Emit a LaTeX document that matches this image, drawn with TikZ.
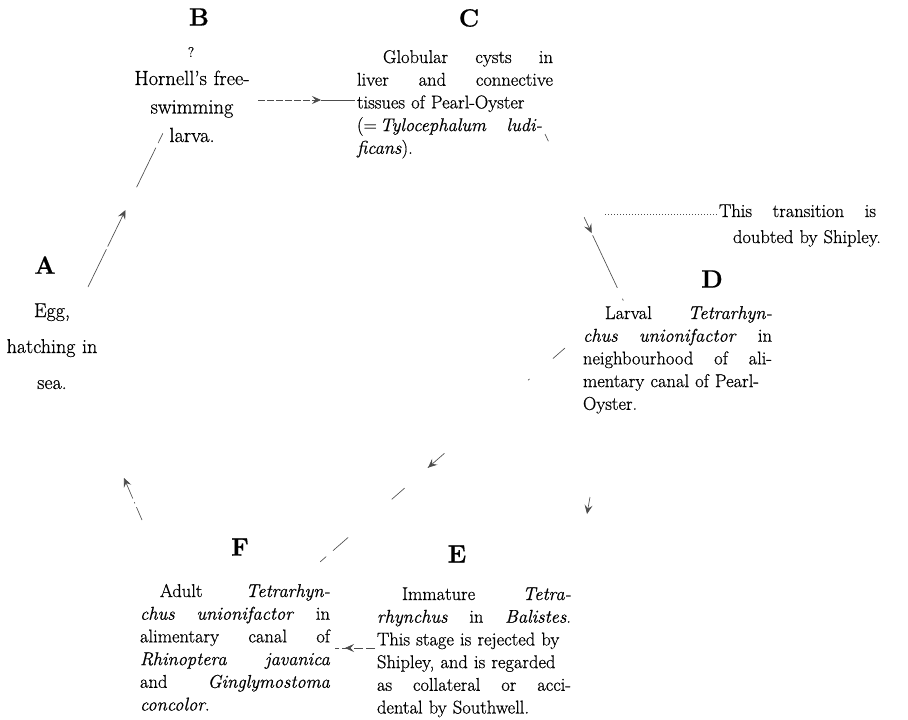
\documentclass[tikz,border=0pt]{standalone}
\usepackage{fontspec}
\setmainfont{Latin Modern Roman}[FakeBold=0.6]
\usetikzlibrary{arrows.meta,decorations.markings}
\newcommand{\jline}[2]{\leavevmode\hbox to #1{#2}}
\begin{document}
\begin{tikzpicture}[x=1pt,y=-1pt,
  >={Stealth[length=9pt,width=8pt,inset=3.5pt]},
  every node/.style={inner sep=0pt, outer sep=0pt, text=black},
  lettr/.style={font=\fontsize{25}{30}\selectfont\bfseries},
  body/.style={anchor=base west, align=left, font=\fontsize{18.5}{22.7}\selectfont},
  conn/.style={draw, color=black!70, line width=0.65pt},
  tipmark/.style={postaction={decorate}, decoration={markings, mark=at position #1 with {\pgfsetdash{}{0pt}\arrow{>}}}},
]
\useasboundingbox[fill=white] (0,0) rectangle (908,720);

% stage letters
\node[lettr] (A) at (45,265) {A};
\node[lettr] (B) at (199,17) {B};
\node[lettr] (C) at (469,18) {C};
\node[lettr] (D) at (712,279) {D};
\node[lettr] (E) at (457,554) {E};
\node[lettr] (F) at (240,547) {F};

% A text
\node[anchor=base, text width=120pt, align=center, font=\fontsize{20}{36}\selectfont] (At) at (52,317) {Egg,\\hatching in\\sea.};

% B text
\node[font=\fontsize{14}{16}\selectfont] (Bq) at (191,52) {?};
\node[anchor=base, text width=140pt, align=center, font=\fontsize{20.5}{28.5}\selectfont] (Bt) at (192,85) {Hornell's free-\\swimming\\larva.};

% C text
\node[body, text width=196pt] (Ct) at (357,63) {%
\jline{196pt}{\hspace*{26pt}Globular\hfill cysts\hfill in}\\
\jline{196pt}{liver\hfill and\hfill connective}\\
\jline{196pt}{tissues of Pearl-Oyster}\\
\jline{185pt}{(=\,\textit{Tylocephalum\hfill ludi-}}\\
\textit{ficans}).};

% D text
\node[body, text width=189pt] (Dt) at (583,319) {%
\jline{189pt}{\hspace*{22pt}Larval\hfill \textit{Tetrarhyn-}}\\
\jline{189pt}{\textit{chus\hfill unionifactor}\hfill in}\\
\jline{189pt}{neighbourhood\hfill of\hfill ali-}\\
\jline{189pt}{mentary canal of Pearl-}\\
Oyster.};

% E text
\node[body, text width=194pt] (Et) at (377,600) {%
\jline{194pt}{\hspace*{25pt}Immature\hfill \textit{Tetra-}}\\
\jline{194pt}{\textit{rhynchus}\hfill in\hfill \textit{Balistes}.}\\
\jline{194pt}{This stage is rejected by}\\
\jline{194pt}{Shipley, and is regarded}\\
\jline{194pt}{as\hfill collateral\hfill or\hfill acci-}\\
dental by Southwell.};

% F text
\node[body, text width=190pt] (Ft) at (140,597) {%
\jline{190pt}{\hspace*{20pt}Adult\hfill \textit{Tetrarhyn-}}\\
\jline{190pt}{\textit{chus\hfill unionifactor}\hfill in}\\
\jline{190pt}{alimentary\hfill canal\hfill of}\\
\jline{190pt}{\textit{Rhinoptera\hfill javanica}}\\
\jline{190pt}{and\hfill \textit{Ginglymostoma}}\\
\textit{concolor}.};

% side note
\node[body, text width=190pt, font=\fontsize{18.5}{26}\selectfont] (note) at (719,217) {%
\jline{157pt}{This\hfill transition\hfill is}\\
\hspace*{14pt}doubted by Shipley.};
\coordinate (dotS) at (605,214);
\coordinate (dotE) at (717,214);
\draw[color=black!70, line width=0.8pt, dash pattern=on 0.8pt off 2.2pt] (dotS) -- (dotE);

% A -> B
\coordinate (ab1) at (88,287);
\coordinate (ab2) at (163,133);
\draw[conn, dash pattern=on 42pt off 3pt on 36pt off 30pt on 44pt off 5pt on 11pt off 20pt, tipmark=0.5] (ab1) -- (ab2);

% B -> C
\coordinate (bc1) at (258,100);
\coordinate (bc2) at (321,100);
\coordinate (bc3) at (355,100);
\draw[conn, dash pattern=on 7pt off 2pt, ->] (bc1) -- (bc2);
\draw[conn] (bc2) -- (bc3);

% C -> D
\coordinate (cd1) at (545,134);
\coordinate (cd2) at (624,302);
\draw[conn, dash pattern=on 8pt off 84pt on 15pt off 5pt on 58pt off 12pt on 2pt off 10pt, tipmark=0.59] (cd1) -- (cd2);

% D -> F
\coordinate (df1) at (565,348);
\coordinate (df2) at (320,562);
\draw[conn, dash pattern=on 16pt off 31pt on 2pt off 111pt on 22pt off 31pt on 17pt off 58pt on 20pt off 9pt on 8pt off 20pt, tipmark=0.559] (df1) -- (df2);

% D -> E
\coordinate (de1) at (590,497);
\coordinate (de2) at (587,514);
\draw[conn, ->] (de1) -- (de2);

% E -> F
\coordinate (ef1) at (375,648);
\coordinate (ef2) at (335,648);
\draw[conn, dash pattern=on 9pt off 3pt, tipmark=0.75] (ef1) -- (ef2);

% F -> A
\coordinate (fa1) at (142,520);
\coordinate (fa2) at (124,478);
\draw[conn, dash pattern=on 14pt off 4pt on 1.5pt off 4pt on 30pt, ->] (fa1) -- (fa2);
\end{tikzpicture}
\end{document}
